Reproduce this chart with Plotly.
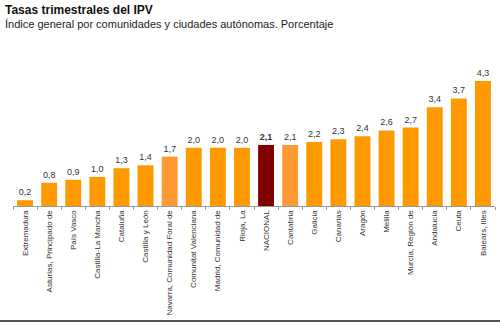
import plotly.graph_objects as go

categories = ["Extremadura", "Asturias, Principado de", "País Vasco", "Castilla-La Mancha",
              "Cataluña", "Castilla y León", "Navarra, Comunidad Foral de", "Comunitat Valenciana",
              "Madrid, Comunidad de", "Rioja, La", "NACIONAL", "Cantabria", "Galicia", "Canarias",
              "Aragón", "Melilla", "Murcia, Región de", "Andalucía", "Ceuta", "Balears, Illes"]
values = [0.2, 0.8, 0.9, 1.0, 1.3, 1.4, 1.7, 2.0, 2.0, 2.0, 2.1, 2.1, 2.2, 2.3, 2.4, 2.6, 2.7, 3.4, 3.7, 4.3]
value_labels = ["0,2", "0,8", "0,9", "1,0", "1,3", "1,4", "1,7", "2,0", "2,0", "2,0", "<b>2,1</b>",
                "2,1", "2,2", "2,3", "2,4", "2,6", "2,7", "3,4", "3,7", "4,3"]

colors = []
for c in categories:
    if c == "NACIONAL":
        colors.append("#800000")
    elif c in ("Navarra, Comunidad Foral de", "Cantabria"):
        colors.append("#FF9933")
    else:
        colors.append("#FF9900")

W, H = 500, 322
ml, mr, mt, mb = 13, 5, 60, 116
ph = H - mt - mb
pw = W - ml - mr

fig = go.Figure(go.Bar(
    x=categories, y=values, marker_color=colors, marker_line_width=0,
    text=value_labels, textposition="outside", cliponaxis=False,
    textfont=dict(family="Liberation Sans, Arial", size=9, color="#333333"),
))

fig.update_layout(
    width=W, height=H, margin=dict(l=ml, r=mr, t=mt, b=mb, autoexpand=False),
    paper_bgcolor="white", plot_bgcolor="white",
    bargap=0.34, showlegend=False,
    font=dict(family="Liberation Sans, Arial", color="#333333"),
    xaxis=dict(tickangle=-90, tickfont=dict(size=8, color="#333333"), automargin=False,
               showline=True, linecolor="#999999", linewidth=1,
               ticks="outside", tickson="boundaries", ticklen=3, tickcolor="#999999",
               showgrid=False, fixedrange=True),
    yaxis=dict(range=[0, ph / 29.07], visible=False, fixedrange=True, automargin=False),
    annotations=[
        dict(text="<b>Tasas trimestrales del IPV</b>", xref="paper", yref="paper",
             x=-(ml - 3) / pw, y=1 + (mt - 1) / ph, xanchor="left", yanchor="top",
             showarrow=False, font=dict(size=12, color="#111111")),
        dict(text="Índice general por comunidades y ciudades autónomas. Porcentaje",
             xref="paper", yref="paper",
             x=-(ml - 3) / pw, y=1 + (mt - 16) / ph, xanchor="left", yanchor="top",
             showarrow=False, font=dict(size=11, color="#222222")),
    ],
    shapes=[dict(type="line", xref="paper", yref="paper",
                 x0=-ml / pw, x1=1 + mr / pw, y0=-(321 - (H - mb)) / ph, y1=-(321 - (H - mb)) / ph,
                 line=dict(color="#555555", width=2))],
)

fig.write_html("out.html")
